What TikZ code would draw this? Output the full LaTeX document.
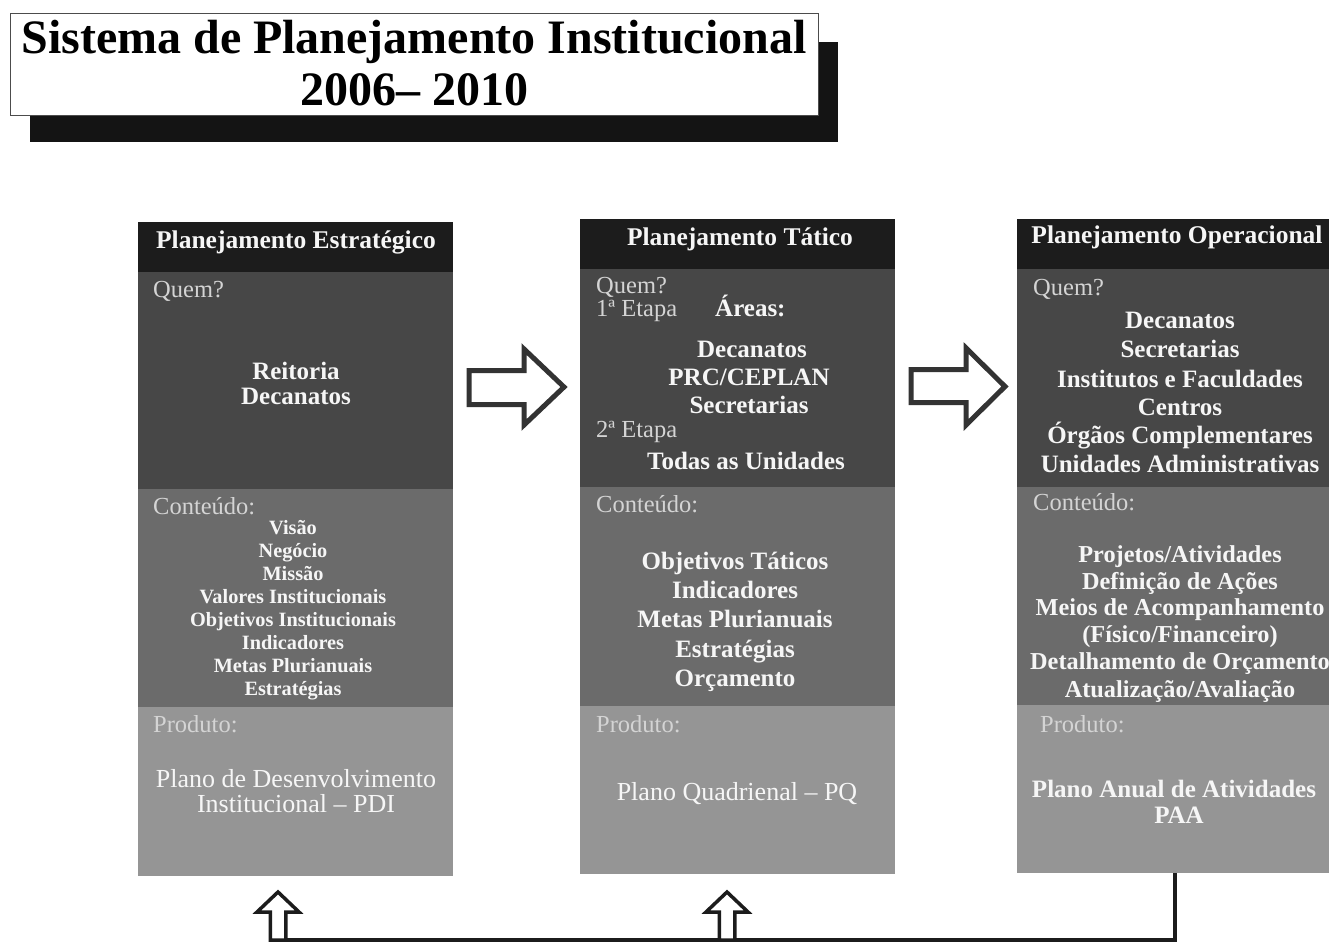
\documentclass[tikz,border=0pt]{standalone}
\usepackage{fontspec}
\setmainfont{Liberation Serif}
\definecolor{hdc}{HTML}{1C1C1C}
\definecolor{qc}{HTML}{474747}
\definecolor{cc}{HTML}{6B6B6B}
\definecolor{pc}{HTML}{959595}
\definecolor{lblc}{HTML}{D4D4D4}
\definecolor{txc}{HTML}{F6F6F6}
\definecolor{arc}{HTML}{333333}
\begin{document}
\begin{tikzpicture}[x=1pt,y=-1pt,
  sec/.style={draw=none, inner sep=0pt, anchor=north west, minimum width=315pt},
  hd/.style={font=\bfseries\fontsize{25.5}{26}\selectfont, text=txc, anchor=base, inner sep=0pt},
  lbl/.style={font=\fontsize{24.5}{25}\selectfont, text=lblc, anchor=base west, inner sep=0pt},
  bdl/.style={font=\bfseries\fontsize{25}{25}\selectfont, text=txc, anchor=base, inner sep=0pt},
  bds/.style={font=\bfseries\fontsize{20.3}{21}\selectfont, text=txc, anchor=base, inner sep=0pt},
  bdm/.style={font=\bfseries\fontsize{24.3}{25}\selectfont, text=txc, anchor=base, inner sep=0pt},
  prd/.style={font=\fontsize{26}{26}\selectfont, text=txc, anchor=base, inner sep=0pt},
  bigarrow/.style={draw=arc, line width=5pt, fill=white, line join=miter},
  uparrow/.style={draw=hdc, line width=3.5pt, fill=white, line join=miter},
  fb/.style={draw=hdc, line width=4pt}
]
\useasboundingbox (0,0) rectangle (1329,945);
\clip (0,0) rectangle (1329,945);
\fill[white] (0,0) rectangle (1329,945);

% title
\fill[black!92] (30,42) rectangle (838,142);
\node[draw=black!70, line width=1.2pt, fill=white, anchor=north west, minimum width=808pt, minimum height=102pt, inner sep=0pt] (title) at (10,13) {};
\node[font=\bfseries\fontsize{48}{48}\selectfont, anchor=base, inner sep=0pt] (t1) at (414,53) {Sistema de Planejamento Institucional};
\node[font=\bfseries\fontsize{48}{48}\selectfont, anchor=base, inner sep=0pt] (t2) at (414,105) {2006– 2010};

% box 1
\node[sec, fill=hdc, minimum height=50pt] (h1) at (138,222) {};
\node[sec, fill=qc, minimum height=217pt] (q1) at (138,272) {};
\node[sec, fill=cc, minimum height=218pt] (c1) at (138,489) {};
\node[sec, fill=pc, minimum height=169pt] (p1) at (138,707) {};
\node[hd] (h1t) at (296,248) {Planejamento Estratégico};
\node[lbl] (q1l) at (153,297) {Quem?};
\node[bdl] (q1a) at (296,379) {Reitoria};
\node[bdl] (q1b) at (296,404) {Decanatos};
\node[lbl] (c1l) at (153,514) {Conteúdo:};
\node[bds] (c1a) at (293,534) {Visão};
\node[bds] (c1b) at (293,557) {Negócio};
\node[bds] (c1c) at (293,580) {Missão};
\node[bds] (c1d) at (293,603) {Valores Institucionais};
\node[bds] (c1e) at (293,626) {Objetivos Institucionais};
\node[bds] (c1f) at (293,649) {Indicadores};
\node[bds] (c1g) at (293,672) {Metas Plurianuais};
\node[bds] (c1h) at (293,695) {Estratégias};
\node[lbl] (p1l) at (153,732) {Produto:};
\node[prd] (p1a) at (296,787) {Plano de Desenvolvimento};
\node[prd] (p1b) at (296,812) {Institucional – PDI};

% box 2
\node[sec, fill=hdc, minimum height=50pt] (h2) at (580,219) {};
\node[sec, fill=qc, minimum height=218pt] (q2) at (580,269) {};
\node[sec, fill=cc, minimum height=219pt] (c2) at (580,487) {};
\node[sec, fill=pc, minimum height=168pt] (p2) at (580,706) {};
\node[hd] (h2t) at (740,245) {Planejamento Tático};
\node[lbl] (q2l) at (596,293) {Quem?};
\node[lbl] (q2e1) at (596,316) {1ª Etapa};
\node[bdl, anchor=base west] (q2ar) at (715,316) {Áreas:};
\node[bdl] (q2a) at (752,357) {Decanatos};
\node[bdl] (q2b) at (749,385) {PRC/CEPLAN};
\node[bdl] (q2c) at (749,413) {Secretarias};
\node[lbl] (q2e2) at (596,437) {2ª Etapa};
\node[bdl] (q2d) at (746,469) {Todas as Unidades};
\node[lbl] (c2l) at (596,512) {Conteúdo:};
\node[bdl] (c2a) at (735,569) {Objetivos Táticos};
\node[bdl] (c2b) at (735,598) {Indicadores};
\node[bdl] (c2c) at (735,627) {Metas Plurianuais};
\node[bdl] (c2d) at (735,657) {Estratégias};
\node[bdl] (c2e) at (735,686) {Orçamento};
\node[lbl] (p2l) at (596,732) {Produto:};
\node[prd] (p2a) at (737,800) {Plano Quadrienal – PQ};

% box 3
\node[sec, fill=hdc, minimum height=50pt, minimum width=320pt] (h3) at (1017,219) {};
\node[sec, fill=qc, minimum height=218pt, minimum width=320pt] (q3) at (1017,269) {};
\node[sec, fill=cc, minimum height=218pt, minimum width=320pt] (c3) at (1017,487) {};
\node[sec, fill=pc, minimum height=168pt, minimum width=320pt] (p3) at (1017,705) {};
\node[hd] (h3t) at (1177,243) {Planejamento Operacional};
\node[lbl] (q3l) at (1033,295) {Quem?};
\node[bdl] (q3a) at (1180,328) {Decanatos};
\node[bdl] (q3b) at (1180,357) {Secretarias};
\node[bdl] (q3c) at (1180,387) {Institutos e Faculdades};
\node[bdl] (q3d) at (1180,415) {Centros};
\node[bdl] (q3e) at (1180,443) {Órgãos Complementares};
\node[bdl] (q3f) at (1180,472) {Unidades Administrativas};
\node[lbl] (c3l) at (1033,510) {Conteúdo:};
\node[bdm] (c3a) at (1180,562) {Projetos/Atividades};
\node[bdm] (c3b) at (1180,589) {Definição de Ações};
\node[bdm] (c3c) at (1180,615) {Meios de Acompanhamento};
\node[bdm] (c3d) at (1180,642) {(Físico/Financeiro)};
\node[bdm] (c3e) at (1180,669) {Detalhamento de Orçamento};
\node[bdm] (c3f) at (1180,697) {Atualização/Avaliação};
\node[lbl] (p3l) at (1040,732) {Produto:};
\node[bdl] (p3a) at (1174,797) {Plano Anual de Atividades};
\node[bdl] (p3b) at (1179,823) {PAA};

% big arrows between boxes
\draw[bigarrow] (469,370.5) -- (524,370.5) -- (524,349) -- (564,387) -- (524,425) -- (524,404.5) -- (469,404.5) -- cycle;
\draw[bigarrow] (911,369.5) -- (966,369.5) -- (966,348) -- (1005,386.5) -- (966,425) -- (966,402.5) -- (911,402.5) -- cycle;

% feedback line
\coordinate (fbc) at (1175,940);
\coordinate (fbl) at (280,940);
\draw[fb] (p3.south -| fbc) -- (fbc) -- (fbl);

% up arrows
\coordinate (ua1) at (278,940);
\coordinate (ua2) at (727,940);
\foreach \u in {ua1,ua2}{
  \draw[uparrow] ([yshift=48pt]\u) -- ([xshift=21pt,yshift=28pt]\u) -- ([xshift=7.75pt,yshift=28pt]\u) -- ([xshift=7.75pt]\u) -- ([xshift=-7.75pt]\u) -- ([xshift=-7.75pt,yshift=28pt]\u) -- ([xshift=-21pt,yshift=28pt]\u) -- cycle;
}
\end{tikzpicture}
\end{document}
